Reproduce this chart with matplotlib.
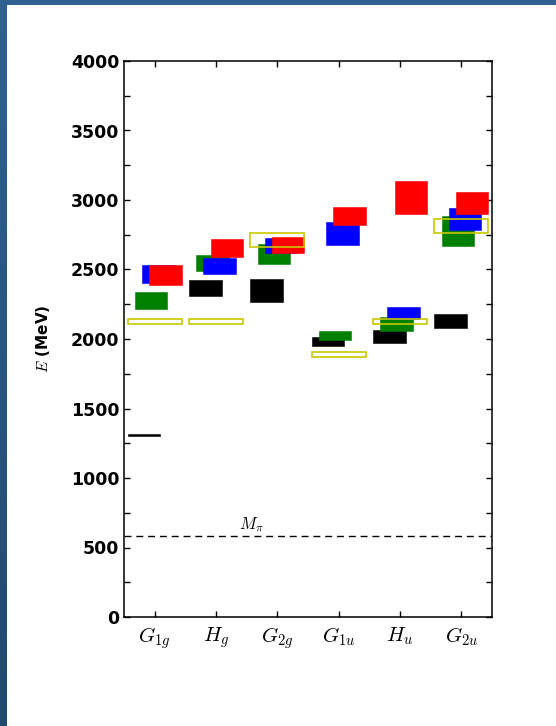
import numpy as np
import matplotlib
matplotlib.use("Agg")
import matplotlib.pyplot as plt
from matplotlib.ticker import MultipleLocator

# irreps along the x axis
IRREPS = [r"$G_{1g}$", r"$H_g$", r"$G_{2g}$", r"$G_{1u}$", r"$H_u$", r"$G_{2u}$"]

# energy bands (MeV): lower / upper edge per irrep
BLACK_LO = [1303, 2307, 2264, 1950, 1969, 2081]
BLACK_HI = [1320, 2422, 2432, 2012, 2067, 2182]
GREEN_LO = [2218, 2491, 2537, 1993, 2060, 2671]
GREEN_HI = [2340, 2602, 2680, 2055, 2160, 2885]
BLUE_LO = [2400, 2465, 2616, 2674, 2144, 2784]
BLUE_HI = [2532, 2580, 2724, 2840, 2228, 2940]
RED_LO = [2386, 2592, 2616, 2820, 2897, 2899]
RED_HI = [2532, 2717, 2736, 2952, 3137, 3055]
EXP_LO = [2106, 2106, 2664, 1868, 2106, 2765]
EXP_HI = [2146, 2146, 2760, 1906, 2146, 2861]
M_PI = 580

plt.rcParams.update({
    "mathtext.fontset": "cm",
    "font.family": "DejaVu Sans",
})

fig = plt.figure(figsize=(5.56, 7.26), dpi=100)

# blue frame on the left and top edges
grad = np.linspace(0, 1, 256).reshape(-1, 1)
cmap = matplotlib.colors.LinearSegmentedColormap.from_list("frame", ["#2f6291", "#22496e"])
fl = fig.add_axes([0, 0, 7/556, 1]); fl.imshow(grad, aspect="auto", cmap=cmap); fl.axis("off")
ft = fig.add_axes([0, 1 - 5/726, 1, 5/726]); ft.set_facecolor("#2f6291")
ft.set_xticks([]); ft.set_yticks([])
for s in ft.spines.values(): s.set_visible(False)

ax = fig.add_axes([124/556, 109/726, 368/556, 556/726])
x = np.arange(1, len(IRREPS) + 1)
w, step, left = 0.53, 0.117, -0.44

def band(lo, hi, k, color):
    lo, hi = np.array(lo), np.array(hi)
    ax.bar(x + left + k*step, hi - lo, bottom=lo, width=w, align="edge",
           color=color, edgecolor=color, linewidth=0.4, zorder=2 + k)

band(BLACK_LO, BLACK_HI, 0, "black")
band(GREEN_LO, GREEN_HI, 1, "#008000")
band(BLUE_LO, BLUE_HI, 2, "#0000ff")
band(RED_LO, RED_HI, 3, "#ff0000")
lo, hi = np.array(EXP_LO), np.array(EXP_HI)
ax.bar(x + left, hi - lo, bottom=lo, width=0.88, align="edge", fill=False,
       edgecolor="#c8c800", linewidth=1.2, zorder=7)

ax.axhline(M_PI, color="black", lw=1.0, ls=(0, (5, 3.5)), zorder=1)
ax.text(2.58, M_PI + 15, r"$M_\pi$", fontsize=12, ha="center", va="bottom")

ax.set_xlim(0.5, 6.5); ax.set_ylim(0, 4000)
ax.set_xticks(x); ax.set_xticklabels(IRREPS, fontsize=15)
ax.yaxis.set_major_locator(MultipleLocator(500))
ax.yaxis.set_minor_locator(MultipleLocator(250))
ax.tick_params(which="both", direction="in", top=True, right=True, width=1.0)
ax.tick_params(which="major", length=4)
ax.tick_params(which="minor", length=4)
ax.tick_params(axis="x", pad=6)
for t in ax.get_yticklabels():
    t.set_fontsize(12.5); t.set_fontweight("bold")
for s in ax.spines.values(): s.set_linewidth(1.1)
ax.set_ylabel(r"$E$ (MeV)", fontsize=11, fontweight="bold")
ax.yaxis.set_label_coords(-0.195, 0.5)

fig.savefig("out.png", dpi=100)
